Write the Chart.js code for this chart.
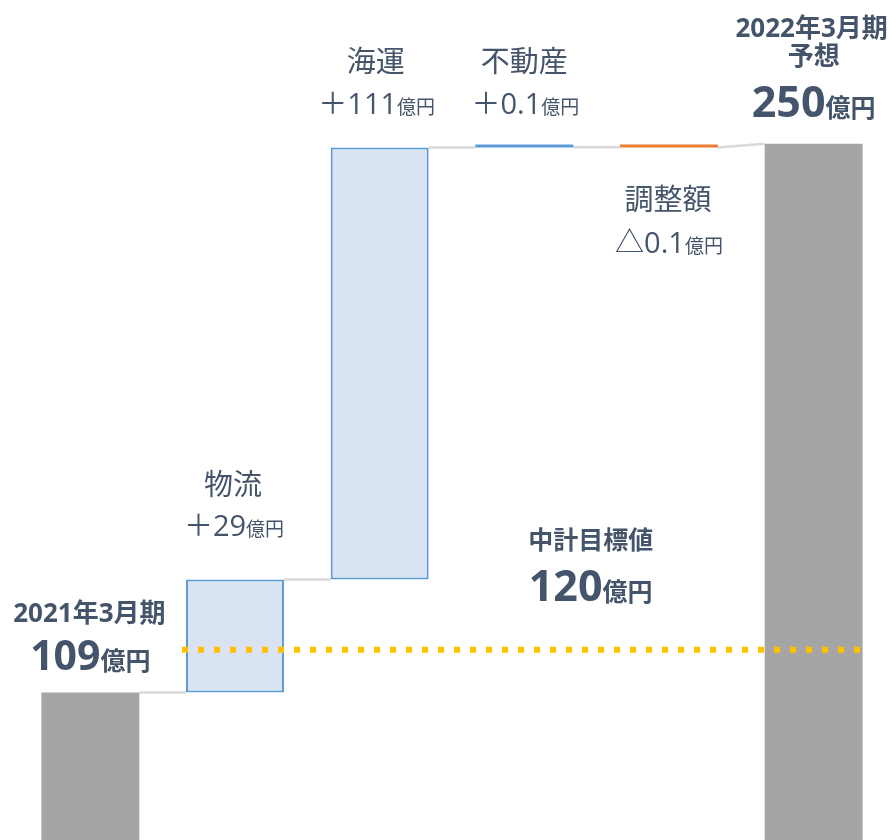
<!DOCTYPE html>
<html><head><meta charset="utf-8">
<script src="https://cdn.jsdelivr.net/npm/chart.js@4.4.1/dist/chart.umd.min.js"></script>
<style>html,body{margin:0;padding:0;background:#fff;overflow:hidden}</style>
</head><body>
<canvas id="c" width="891" height="840"></canvas>
<script>
// ---- data ----
const categories = ['2021年3月期', '物流', '海運', '不動産', '調整額', '2022年3月期 予想'];
const nameLabels = [['2021年3月期'], ['物流'], ['海運'], ['不動産'], ['調整額'], ['2022年3月期', '予想']];
const deltas = [109, 29, 111, 0.1, -0.1, 250];
const kinds = ['total', 'delta', 'delta', 'delta', 'delta', 'total'];
const valueLabels = ['109', '＋29', '＋111', '＋0.1', '△0.1', '250'];
const unitLabel = '億円';
const targetValue = 120;
const targetName = '中計目標値';
const targetValueLabel = '120';

// ---- build floating bars ----
let run = 0;
const floats = deltas.map((d, i) => {
  if (kinds[i] === 'total') { run = d; return [0, d]; }
  const s = run; run = +(run + d).toFixed(4); return [s, run];
});

const TEXT = '#44546A';
const FONT = '"Open Sans", "Noto Sans CJK JP", sans-serif';
const bg = ['#A5A5A5', '#DAE3F3', '#DAE3F3', '#5B9BD5', '#ED7D31', '#A5A5A5'];
const bd = ['#A5A5A5', '#5B9BD5', '#5B9BD5', '#5B9BD5', '#ED7D31', '#A5A5A5'];
const bw = [0, 2, 2, 0, 0, 0];

function drawRich(ctx, cx, y, parts) {
  ctx.textBaseline = 'alphabetic';
  ctx.textAlign = 'left';
  let total = 0;
  parts.forEach(p => { ctx.font = p.font; p.w = ctx.measureText(p.text).width; total += p.w; });
  let x = cx - total / 2;
  parts.forEach(p => { ctx.font = p.font; ctx.fillText(p.text, x, y); x += p.w; });
}
function drawMid(ctx, cx, y, text, font) {
  ctx.font = font; ctx.textAlign = 'center'; ctx.textBaseline = 'middle';
  ctx.fillText(text, cx, y);
}

const decor = {
  id: 'decor',
  beforeDatasetsDraw(chart) {
    const ctx = chart.ctx, meta = chart.getDatasetMeta(0), ys = chart.scales.y;
    ctx.save();
    ctx.strokeStyle = '#D9D9D9'; ctx.lineWidth = 2.5;
    for (let i = 0; i < floats.length - 1; i++) {
      const a = meta.data[i], b = meta.data[i + 1];
      const v1 = floats[i][1];
      const v2 = kinds[i + 1] === 'delta' ? floats[i + 1][0] : floats[i + 1][1];
      ctx.beginPath();
      ctx.moveTo(a.x + a.width / 2, ys.getPixelForValue(v1));
      ctx.lineTo(b.x - b.width / 2, ys.getPixelForValue(v2));
      ctx.stroke();
    }
    ctx.restore();
  },
  afterDatasetsDraw(chart) {
    const ctx = chart.ctx, meta = chart.getDatasetMeta(0), ys = chart.scales.y, xs = chart.scales.x;
    ctx.save();
    // target dotted line
    const ty = ys.getPixelForValue(targetValue);
    const b1 = meta.data[1], b5 = meta.data[5];
    ctx.strokeStyle = '#FFC000'; ctx.lineWidth = 6; ctx.setLineDash([6, 10]);
    ctx.beginPath();
    ctx.moveTo(b1.x - b1.width / 2 - 4, ty);
    ctx.lineTo(b5.x + b5.width / 2, ty);
    ctx.stroke();
    ctx.setLineDash([]);

    ctx.fillStyle = TEXT;
    const bigB = (s) => 'bold ' + s + 'px ' + FONT;
    const reg = (s) => 'normal ' + s + 'px ' + FONT;
    const top = (i) => ys.getPixelForValue(Math.max(floats[i][0], floats[i][1]));

    // bar 0 (total)
    let b = meta.data[0], t = top(0);
    drawRich(ctx, b.x - 1, t - 70.5, [{ text: nameLabels[0][0], font: bigB(26) }]);
    drawRich(ctx, b.x, t - 22.5, [{ text: valueLabels[0], font: bigB(41) }, { text: unitLabel, font: bigB(25) }]);

    // delta bars above
    const above = [[1, -92.6, -43.6, -2], [2, -83.5, -33.5, -4], [3, -83, -33, 0]];
    above.forEach(([i, ny, vy, dx]) => {
      const el = meta.data[i], tp = top(i);
      drawMid(ctx, el.x + dx, tp + ny, nameLabels[i][0], reg(29));
      drawRich(ctx, el.x + dx + 1, tp + vy, [{ text: valueLabels[i], font: reg(29) }, { text: unitLabel, font: reg(19) }]);
    });
    // bar 4 (below)
    b = meta.data[4]; t = top(4);
    drawMid(ctx, b.x - 1, t + 55, nameLabels[4][0], reg(29));
    drawRich(ctx, b.x, t + 106, [{ text: valueLabels[4], font: reg(29) }, { text: unitLabel, font: reg(19) }]);

    // bar 5 (total)
    b = meta.data[5]; t = top(5);
    drawRich(ctx, b.x - 2, t - 106.6, [{ text: nameLabels[5][0], font: bigB(26) }]);
    drawMid(ctx, b.x, t - 85.6, nameLabels[5][1], bigB(26));
    drawRich(ctx, b.x, t - 26.6, [{ text: valueLabels[5], font: bigB(43) }, { text: unitLabel, font: bigB(25) }]);

    // target label
    const tx = xs.getPixelForValue(3.5) - 6;
    drawMid(ctx, tx, ty - 107.7, targetName, bigB(25));
    drawRich(ctx, tx, ty - 48.7, [{ text: targetValueLabel, font: bigB(43) }, { text: unitLabel, font: bigB(25) }]);
    ctx.restore();
  }
};

new Chart(document.getElementById('c'), {
  type: 'bar',
  data: {
    labels: categories,
    datasets: [{
      data: floats,
      backgroundColor: bg,
      borderColor: bd,
      borderWidth: bw,
      borderSkipped: false,
      minBarLength: 3,
      barPercentage: 1,
      categoryPercentage: 0.677
    }]
  },
  options: {
    responsive: false,
    animation: false,
    devicePixelRatio: 1,
    layout: { padding: { left: 18, right: 5, top: 0, bottom: 0 } },
    plugins: { legend: { display: false }, tooltip: { enabled: false } },
    scales: {
      x: { display: false, grid: { display: false } },
      y: { display: false, min: 71.1, max: 286.9, grid: { display: false } }
    }
  },
  plugins: [decor]
});
</script>
</body></html>
